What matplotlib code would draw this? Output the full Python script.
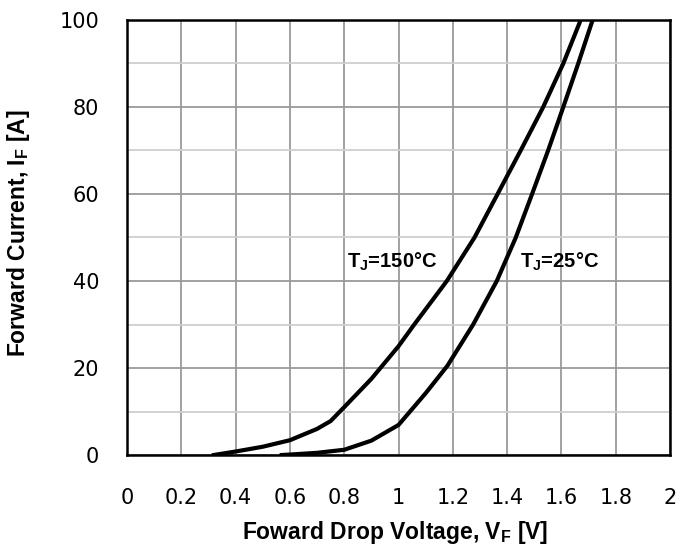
import numpy as np
import matplotlib
matplotlib.use("Agg")
import matplotlib.pyplot as plt
from matplotlib.ticker import MultipleLocator

plt.rcParams['font.family'] = ['Liberation Sans', 'DejaVu Sans']
plt.rcParams['mathtext.fontset'] = 'custom'
plt.rcParams['mathtext.rm'] = 'Liberation Sans'
plt.rcParams['mathtext.bf'] = 'Liberation Sans:bold'

# VF-IF curves
vf_150 = [0.32, 0.40, 0.50, 0.60, 0.70, 0.75, 0.80, 0.90, 1.00, 1.058, 1.178, 1.28, 1.365, 1.45, 1.533, 1.607, 1.671]
if_150 = [0.0, 0.8, 1.9, 3.4, 6.0, 7.8, 11.0, 17.5, 25.0, 30.0, 40.0, 50.0, 60.0, 70.0, 80.0, 90.0, 100.0]

vf_25 = [0.57, 0.60, 0.70, 0.80, 0.90, 1.00, 1.10, 1.18, 1.275, 1.362, 1.432, 1.492, 1.551, 1.607, 1.662, 1.715]
if_25 = [0.0, 0.1, 0.5, 1.2, 3.3, 6.9, 14.2, 20.5, 30.0, 40.0, 50.0, 60.0, 70.0, 80.0, 90.0, 100.0]

x_ticks = [0, 0.2, 0.4, 0.6, 0.8, 1.0, 1.2, 1.4, 1.6, 1.8, 2.0]
x_ticklabels = ['0', '0.2', '0.4', '0.6', '0.8', '1', '1.2', '1.4', '1.6', '1.8', '2']
y_ticks = [0, 20, 40, 60, 80, 100]

fig = plt.figure(figsize=(6.8, 5.5), dpi=100)
ax = fig.add_axes([127 / 680, 1 - 455 / 550, 543 / 680, 435 / 550])

ax.plot(vf_150, if_150, color='black', lw=3, solid_joinstyle='round', zorder=3)
ax.plot(vf_25, if_25, color='black', lw=3, solid_joinstyle='round', zorder=3)

ax.set_xlim(0, 2)
ax.set_ylim(0, 100)
ax.set_xticks(x_ticks)
ax.set_xticklabels(x_ticklabels)
ax.set_yticks(y_ticks)
ax.yaxis.set_minor_locator(MultipleLocator(10))

ax.grid(which='major', color='#9a9a9a', lw=1.3, zorder=0)
ax.grid(which='minor', axis='y', color='#cfcfcf', lw=1.3, zorder=0)
ax.set_axisbelow(True)

ax.tick_params(which='both', length=0)
ax.tick_params(axis='x', pad=24, labelsize=15)
ax.tick_params(axis='y', pad=20, labelsize=15)
for lab in ax.get_xticklabels() + ax.get_yticklabels():
    lab.set_family(['DejaVu Sans'])

for s in ax.spines.values():
    s.set_linewidth(1.8)
    s.set_color('black')

ax.text(0.81, 44.5, r'T$_\mathbf{J}$=150°C', fontsize=14.5, fontweight='bold',
        va='center', ha='left', zorder=4)
ax.text(1.447, 44.5, r'T$_\mathbf{J}$=25°C', fontsize=14.5, fontweight='bold',
        va='center', ha='left', zorder=4)

fig.text(395 / 680, 1 - 532 / 550, r'Foward Drop Voltage, V$_\mathregular{F}$ [V]',
         fontsize=16.5, fontweight='bold', ha='center', va='center')
fig.text(19 / 680, 1 - 233 / 550, r'Forward Current, I$_\mathregular{F}$ [A]',
         fontsize=16.5, fontweight='bold', ha='center', va='center', rotation=90)

fig.savefig('out.png', dpi=100, facecolor='white')
